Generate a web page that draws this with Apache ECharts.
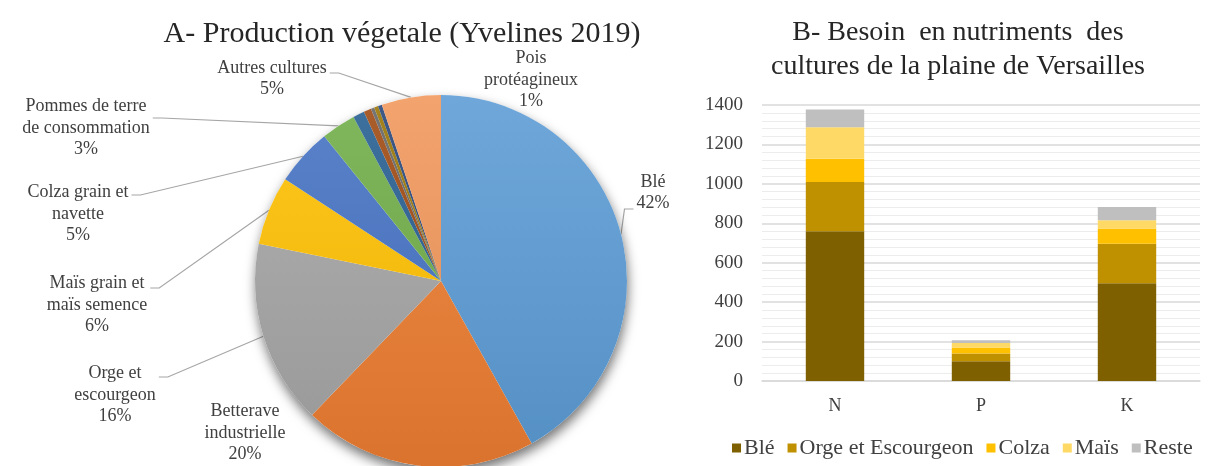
<!DOCTYPE html>
<html>
<head>
<meta charset="utf-8">
<script src="https://cdn.jsdelivr.net/npm/echarts@6/dist/echarts.min.js"></script>
<style>
  html, body { margin: 0; padding: 0; background: #ffffff; }
  #chart { width: 1209px; height: 466px; }
</style>
</head>
<body>
<div id="chart"></div>
<script>
// ---- A: crop production shares (Yvelines 2019), % of total ----
const cropNames = [
  'Blé',
  'Betterave\nindustrielle',
  'Orge et\nescourgeon',
  'Maïs grain et\nmaïs semence',
  'Colza grain et\nnavette',
  'Pommes de terre\nde consommation',
  'Pois\nprotéagineux',
  'Divers 1',
  'Divers 2',
  'Divers 3',
  'Divers 4',
  'Autres cultures'
];
const cropShares = [41.9, 20.3, 16.0, 6.0, 5.0, 3.0, 1.0, 0.65, 0.3, 0.35, 0.35, 5.15];

// ---- B: nutrient needs of the crops of the plaine de Versailles ----
const nutrients = ['N', 'P', 'K'];
const needSeriesNames = ['Blé', 'Orge et Escourgeon', 'Colza', 'Maïs', 'Reste'];
const needBle    = [760, 100, 496];
const needOrge   = [250, 39, 200];
const needColza  = [117, 31, 77];
const needMais   = [160, 23, 42];
const needReste  = [90, 14, 67];

// ---- styling ----
const SERIF = "'Liberation Serif', 'Times New Roman', serif";
const TEXT = '#404040';

const PIE_CX = 441, PIE_CY = 281, PIE_R = 186;

// base slice colours (Office palette)
const sliceColors = [
  '#5B9BD5', '#ED7D31', '#A5A5A5', '#FFC000', '#4472C4', '#70AD47',
  '#255E91', '#9E480E', '#636363', '#997300', '#264478', '#F1975A'
];
const barColors = ['#7F6000', '#BF9000', '#FFC000', '#FFD966', '#BFBFBF'];

function shade(hex, f) {
  const n = parseInt(hex.slice(1), 16);
  let r = (n >> 16) & 255, g = (n >> 8) & 255, b = n & 255;
  const mix = (c) => f >= 0 ? Math.round(c + (255 - c) * f) : Math.round(c * (1 + f));
  r = mix(r); g = mix(g); b = mix(b);
  return 'rgb(' + r + ',' + g + ',' + b + ')';
}
function sliceFill(hex) {
  // soft vertical shading across the whole disc
  return {
    type: 'linear', global: true,
    x: 0, y: PIE_CY - PIE_R, x2: 0, y2: PIE_CY + PIE_R,
    colorStops: [
      { offset: 0, color: shade(hex, 0.12) },
      { offset: 1, color: shade(hex, -0.08) }
    ]
  };
}

// where each visible pie label sits, and where its leader line leaves it
const labelSpots = {
  0:  { x: 653, y: 193, side: 'left',  dy: 16 },
  1:  { x: 245, y: 433 },
  2:  { x: 115, y: 395, side: 'right', dy: -18 },
  3:  { x: 97,  y: 305, side: 'right', dy: -17 },
  4:  { x: 78,  y: 214, side: 'right', dy: -19 },
  5:  { x: 86,  y: 128, side: 'right', dy: -10 },
  6:  { x: 531, y: 80 },
  11: { x: 272, y: 79,  side: 'right', dy: -6 }
};

const shareTotal = cropShares.reduce((a, b) => a + b, 0);
const midAngles = [];
(function () {
  let acc = 0;
  cropShares.forEach((v) => {
    midAngles.push(((acc + v / 2) / shareTotal) * Math.PI * 2);
    acc += v;
  });
})();

const pieData = cropNames.map((name, i) => {
  const spot = labelSpots[i];
  return {
    name: name,
    value: cropShares[i],
    itemStyle: { color: sliceFill(sliceColors[i]) },
    label: { show: !!spot },
    labelLine: { show: !!(spot && spot.side) }
  };
});

const stackValues = [needBle, needOrge, needColza, needMais, needReste];
const barSeries = needSeriesNames.map((name, i) => ({
  name: name,
  type: 'bar',
  stack: 'besoin',
  barWidth: '40%',
  xAxisIndex: 0,
  yAxisIndex: 0,
  itemStyle: { color: barColors[i] },
  emphasis: { disabled: true },
  data: stackValues[i]
}));

const chart = echarts.init(document.getElementById('chart'), null, { renderer: 'canvas' });

chart.setOption({
  backgroundColor: '#ffffff',
  animation: false,
  graphic: [
    {
      type: 'text', x: 402, y: 34,
      style: {
        text: 'A- Production végetale (Yvelines 2019)',
        font: '30px ' + SERIF, fill: '#262626',
        textAlign: 'center', textVerticalAlign: 'middle'
      }
    },
    {
      type: 'text', x: 958, y: 50,
      style: {
        text: 'B- Besoin  en nutriments  des\ncultures de la plaine de Versailles',
        font: '28px ' + SERIF, fill: '#262626', lineHeight: 34,
        textAlign: 'center', textVerticalAlign: 'middle'
      }
    }
  ],
  legend: {
    data: needSeriesNames,
    left: 727,
    top: 432,
    icon: 'rect',
    itemWidth: 9,
    itemHeight: 9,
    itemGap: 13,
    selectedMode: false,
    textStyle: { fontFamily: SERIF, fontSize: 22, color: TEXT, padding: [0, 0, 0, -2] }
  },
  grid: { left: 762, right: 9, top: 105, bottom: 85 },
  xAxis: {
    type: 'category',
    data: nutrients,
    axisLine: { show: true, lineStyle: { color: '#D9D9D9', width: 1.5 } },
    axisTick: { show: false },
    axisLabel: { color: TEXT, fontFamily: SERIF, fontSize: 18, margin: 16 }
  },
  yAxis: {
    type: 'value',
    min: 0,
    max: 1400,
    interval: 200,
    axisLine: { show: false },
    axisTick: { show: false },
    axisLabel: {
      color: TEXT, fontFamily: SERIF, fontSize: 19, margin: 19,
      formatter: (v) => String(v)
    },
    splitLine: { lineStyle: { color: '#D9D9D9', width: 1.5 } },
    minorTick: { show: false, splitNumber: 5 },
    minorSplitLine: { show: true, lineStyle: { color: '#ECECEC', width: 1 } }
  },
  series: [
    {
      // soft drop shadow under the disc
      type: 'pie',
      silent: true,
      center: [PIE_CX, PIE_CY],
      radius: PIE_R,
      label: { show: false },
      labelLine: { show: false },
      itemStyle: {
        color: '#ffffff',
        shadowBlur: 12,
        shadowOffsetX: 1,
        shadowOffsetY: 6,
        shadowColor: 'rgba(0,0,0,0.55)'
      },
      data: [{ value: 1, name: '' }],
      tooltip: { show: false },
      legendHoverLink: false
    },
    {
      type: 'pie',
      name: 'Production végetale',
      center: [PIE_CX, PIE_CY],
      radius: PIE_R,
      startAngle: 90,
      clockwise: true,
      avoidLabelOverlap: false,
      legendHoverLink: false,
      emphasis: { disabled: true },
      itemStyle: { borderWidth: 0 },
      label: {
        position: 'outside',
        color: TEXT,
        fontFamily: SERIF,
        fontSize: 18,
        lineHeight: 21.5,
        align: 'center',
        formatter: (p) => p.name + '\n' + Math.round(p.percent) + '%'
      },
      labelLine: { lineStyle: { color: '#A6A6A6', width: 1.2 } },
      labelLayout: function (params) {
        const i = params.dataIndex;
        const spot = labelSpots[i];
        if (!spot) return {};
        const out = { x: spot.x, y: spot.y, align: 'center', verticalAlign: 'middle' };
        if (spot.side) {
          const w = params.labelRect.width;
          const a = midAngles[i];
          const edge = [PIE_CX + PIE_R * Math.sin(a), PIE_CY - PIE_R * Math.cos(a)];
          const dir = spot.side === 'right' ? 1 : -1;
          const ax = spot.x + dir * (w / 2 + 3);
          const ay = spot.y + spot.dy;
          out.labelLinePoints = [edge, [ax + dir * 9, ay], [ax, ay]];
        }
        return out;
      },
      data: pieData
    }
  ].concat(barSeries)
});
</script>
</body>
</html>
